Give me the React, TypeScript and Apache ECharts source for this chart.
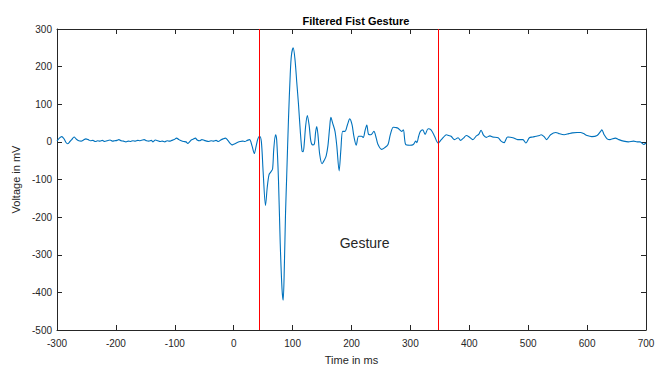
import React, { useEffect, useRef } from "react";
import * as echarts from "echarts";

const timeMs: number[] = [
  -300, -296, -292, -288, -285, -282, -278, -275, -271, -267, -263, -259, -255, -251, -247, -243, -239, -235, -231, -227,
  -223, -219, -215, -210, -206, -202, -198, -195, -191, -187, -183, -179, -175, -171, -167, -163, -159, -155, -152, -148,
  -144, -140, -137, -133, -129, -125, -121, -117, -113, -109, -105, -101, -97, -93, -89, -85, -81, -78, -75, -72,
  -69, -65, -62, -58, -54, -50, -46, -42, -38, -34, -30, -26, -22, -18, -14, -10, -6, -3, 0, 3,
  7, 11, 15, 19, 23, 27, 31, 35, 38, 41, 44, 47, 50, 54, 57, 60, 63, 66, 68, 71,
  73, 76, 79, 82, 84, 86, 88, 90, 93, 96, 98, 101, 104, 107, 110, 113, 116, 118, 120, 122,
  125, 128, 131, 134, 137, 139, 141, 143, 146, 150, 154, 157, 160, 163, 165, 168, 172, 175, 179, 182,
  185, 189, 193, 197, 201, 204, 208, 212, 217, 220, 223, 226, 229, 233, 238, 242, 245, 251, 256, 262,
  266, 271, 275, 279, 285, 288, 292, 299, 305, 309, 311, 314, 317, 321, 325, 330, 335, 341, 347, 352,
  356, 361, 365, 369, 375, 381, 385, 390, 395, 400, 406, 412, 416, 420, 424, 429, 435, 440, 449, 454,
  459, 465, 474, 482, 491, 496, 502, 508, 513, 519, 522, 527, 531, 538, 547, 552, 561, 569, 575, 583,
  589, 594, 600, 608, 617, 623, 625, 629, 634, 639, 648, 654, 662, 670, 679, 685, 690, 696, 700,
];

const voltage: number[] = [
  2, 10, 14, 8, -1, -5, 1, 6, 13, 7, 3, 2, 5, 8, 6, 3, 4, 1, 3, 2,
  4, 1, 3, 5, 2, 3, 4, 6, 3, 2, 0, 2, 1, 3, 2, 4, 3, 5, 6, 3,
  2, 4, 0, 5, 3, 1, 2, 0, 3, 2, 4, 6, 10, 6, 3, 1, 0, -4, 0, 5,
  7, 10, 5, 3, 6, 4, 2, 1, 3, 2, 4, 1, 5, 8, 10, 4, -4, -8, -6, -4,
  -1, 1, 2, 1, 4, 6, -10, -31, -12, 8, 15, 0, -80, -169, -120, -87, -80, -72, -20, 19,
  5, -100, -270, -390, -421, -330, -190, -90, 60, 180, 230, 250, 220, 160, 100, 30, -24, -26, 0, 40,
  70, 45, 2, -8, -5, 25, 41, 20, -33, -58, -48, -37, -10, 40, 65, 50, 28, -10, -77, -20,
  28, 28, 45, 61, 45, 15, -9, 15, 15, 12, 30, 45, 20, 19, 28, 10, -7, -20, -16, -7,
  20, 39, 38, 36, 28, 32, -7, -9, -7, 2, -2, 15, 28, 32, 20, 35, 32, 15, -3, 5,
  12, 19, 17, 15, 6, 11, 4, 10, 17, 13, 6, 16, 20, 31, 18, 12, 16, 13, 11, 2,
  -2, 13, 11, 6, 6, -3, 11, 13, 15, 17, 19, 14, 6, 19, 25, 22, 19, 22, 24, 25,
  25, 22, 17, 14, 17, 28, 32, 19, 8, 6, 10, 6, 2, 0, 2, 0, 0, -7, -3,
];

const gestureBounds: number[] = [43, 347];
const annotationText = "Gesture";
const annotationPos: [number, number] = [180, -270];

const chartTitle = "Filtered Fist Gesture";
const xLabel = "Time in ms";
const yLabel = "Voltage in mV";

const FONT = "'Liberation Sans', Arial, Helvetica, sans-serif";
const AX = "#262626";

export default function App() {
  const ref = useRef<HTMLDivElement>(null);
  useEffect(() => {
    document.body.style.margin = "0";
    const chart = echarts.init(ref.current!, null, { renderer: "svg" });
    const data = timeMs.map((t, i) => [t, voltage[i]]);
    const axisCommon = {
      type: "value" as const,
      axisLine: { show: true, onZero: false, lineStyle: { color: AX, width: 1 } },
      axisTick: { show: true, inside: true, length: 5, lineStyle: { color: AX } },
      splitLine: { show: false },
    };
    chart.setOption({
      animation: false,
      backgroundColor: "#ffffff",
      title: {
        text: chartTitle,
        left: 351,
        top: 10,
        textAlign: "center",
        textStyle: { fontFamily: FONT, fontSize: 11, fontWeight: "bold", color: "#000" },
      },
      grid: { left: 57, right: 15, top: 29, bottom: 35, containLabel: false },
      xAxis: [
        {
          ...axisCommon,
          position: "bottom",
          min: -300,
          max: 700,
          interval: 100,
          name: xLabel,
          nameLocation: "middle",
          nameGap: 24,
          nameTextStyle: { fontFamily: FONT, fontSize: 11, color: AX },
          axisLabel: { fontFamily: FONT, fontSize: 10, color: AX, margin: 8 },
        },
        {
          ...axisCommon,
          position: "top",
          min: -300,
          max: 700,
          interval: 100,
          axisLabel: { show: false },
        },
      ],
      yAxis: [
        {
          ...axisCommon,
          position: "left",
          min: -500,
          max: 300,
          interval: 100,
          name: yLabel,
          nameLocation: "middle",
          nameGap: 30,
          nameTextStyle: { fontFamily: FONT, fontSize: 11, color: AX },
          axisLabel: { fontFamily: FONT, fontSize: 10, color: AX, margin: 5 },
        },
        {
          ...axisCommon,
          position: "right",
          min: -500,
          max: 300,
          interval: 100,
          axisLabel: { show: false },
        },
      ],
      series: [
        {
          type: "line",
          data,
          xAxisIndex: 0,
          yAxisIndex: 0,
          showSymbol: false,
          smooth: 0.3,
          lineStyle: { color: "#0072BD", width: 1.1 },
          markLine: {
            silent: true,
            symbol: "none",
            label: { show: false },
            lineStyle: { color: "#ff0000", width: 1, type: "solid" },
            data: gestureBounds.map((x) => ({ xAxis: x })),
          },
          markPoint: {
            symbol: "circle",
            symbolSize: 0,
            data: [
              {
                coord: annotationPos,
                label: {
                  show: true,
                  formatter: annotationText,
                  position: "right",
                  distance: 0,
                  fontFamily: FONT,
                  fontSize: 14,
                  color: AX,
                },
              },
            ],
          },
        },
      ],
    });
    return () => chart.dispose();
  }, []);
  return <div ref={ref} style={{ width: 661, height: 370 }} />;
}
